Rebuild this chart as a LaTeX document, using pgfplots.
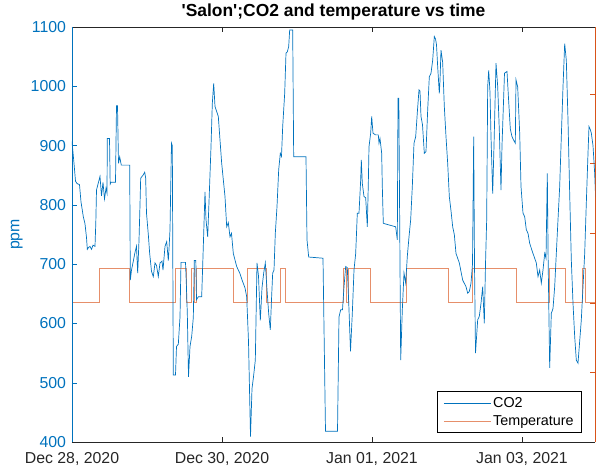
\documentclass[border=0pt]{standalone}
\usepackage{pgfplots}
\pgfplotsset{compat=1.18}
\usepackage{fontspec}
\setmainfont{Liberation Sans}

\definecolor{co2blue}{HTML}{0072BD}
\definecolor{temporange}{HTML}{D95319}
\definecolor{axgray}{HTML}{262626}

% x in hours since Dec 28, 2020 00:00
\pgfplotsset{
  common/.style={
    scale only axis, width=523bp, height=415bp,
    at={(0,0)}, anchor=south west,
    xmin=0, xmax=167.36,
    tick align=inside, major tick length=5bp,
    /pgf/number format/assume math mode=true,
    /pgf/number format/1000 sep={},
    tick label style={font=\fontsize{15.9}{19}\selectfont},
  },
}

\begin{document}
\begin{tikzpicture}
\useasboundingbox (-72bp,-28bp) rectangle (525bp,442bp);

\begin{axis}[common,
    axis x line=none, axis y line*=right,
    y axis line style={draw=temporange, line width=0.5pt},
    ymin=17, ymax=22.96,
    ytick={17,18,...,22}, yticklabels={},
    ytick style={draw=temporange},
  ]
  \addplot[temporange!65!white, line width=0.7pt, const plot] coordinates {
    (0,19) (8.86,19.5) (18.46,19) (33.18,19.5) (36.7,19) (38.3,19.5) (39.04,19)
    (39.84,19.5) (51.62,19) (56.1,19.5) (62.3,19) (66.56,19.5) (68.16,19)
    (86.82,19.5) (87.68,19) (88.48,19.5) (95.58,19) (107.1,19.5) (120.42,19)
    (128.22,19.5) (142.18,19) (152.86,19.5) (157.98,19) (163.3,19.5) (164.38,19)
    (167.36,19)
  };
\end{axis}

\begin{axis}[common,
    axis x line*=box, axis y line*=left,
    x axis line style={draw=axgray, line width=0.5pt},
    y axis line style={draw=co2blue, line width=0.5pt},
    ymin=400, ymax=1100,
    ytick={400,500,...,1100}, ytick pos=left,
    xtick={0,48,96,144},
    xticklabels={{Dec 28, 2020},{Dec 30, 2020},{Jan 01, 2021},{Jan 03, 2021}},
    xtick style={draw=axgray},
    ytick style={draw=co2blue},
    xticklabel style={color=axgray, yshift=-6.5bp},
    yticklabel style={color=co2blue, xshift=-2.5bp},
    ylabel={ppm},
    ylabel style={at={(axis description cs:-0.094,0.5)}, anchor=south,
      inner sep=0pt, color=co2blue, font=\fontsize{15.9}{19}\selectfont},
    title={\textbf{\textquotesingle Salon\textquotesingle;CO2 and temperature vs time}},
    title style={at={(axis description cs:0.5,1)}, anchor=base, yshift=4.5bp,
      font=\fontsize{17.5}{20}\selectfont, color=black},
    legend style={at={(rel axis cs:0.975,0.0217)}, anchor=south east,
      draw=black, line width=0.5pt, fill=white,
      font=\fontsize{14.4}{17}\selectfont,
      inner xsep=6bp, inner ysep=4bp, row sep=2.5bp,
      nodes={inner sep=2bp}},
    legend cell align=left,
    legend image code/.code={\draw[#1] (0bp,0bp) -- (47bp,0bp);},
  ]
  \addplot[co2blue, line width=0.7pt] coordinates {
    (0,907) (0.64,870) (1.12,840) (1.6,836) (2.4,834) (2.88,805) (3.62,780)
    (4.16,768) (4.64,745) (4.9,725) (5.28,728) (5.76,730) (6.24,725) (6.72,732)
    (7.36,730) (7.62,770) (7.84,825) (8.32,835) (8.96,848) (9.44,815) (9.92,838)
    (10.4,810) (10.88,828) (11.2,820) (11.3,912) (12.0,912) (12.22,835) (12.48,838)
    (13.92,838) (14.24,967) (14.56,967) (14.88,870) (15.26,881) (15.78,867)
    (18.46,867) (18.66,673) (19.04,690) (19.62,705) (20.16,720) (20.64,730)
    (21.02,685) (21.44,740) (21.76,800) (21.98,845) (22.72,850) (23.26,855)
    (23.58,845) (23.84,786) (24.42,750) (24.86,718) (25.44,688) (26.02,679)
    (26.56,702) (27.04,698) (27.62,679) (28.16,702) (28.8,705) (29.12,690)
    (29.76,730) (30.3,738) (30.82,706) (31.04,725) (31.36,758) (31.84,904)
    (32.1,900) (32.42,513) (33.12,513) (33.44,561) (34.02,565) (34.56,611)
    (34.88,703) (36.32,703) (36.58,668) (36.9,617) (37.28,510) (37.76,561)
    (38.3,578) (38.82,610) (39.14,706) (39.62,706) (39.84,640) (40.42,645)
    (41.5,645) (42.02,730) (42.56,822) (42.88,775) (43.42,746) (43.94,819)
    (44.48,898) (44.9,971) (45.34,1005) (45.76,966) (46.82,949) (47.9,870)
    (48.96,814) (49.5,763) (50.02,770) (50.56,746) (51.04,752) (51.62,718)
    (52.7,696) (53.76,684) (54.5,672) (55.36,660) (55.9,645) (56.48,570)
    (57.12,409) (57.6,490) (58.08,510) (58.66,538) (59.2,702) (59.68,680)
    (60.26,605) (60.8,660) (61.34,685) (61.86,702) (62.4,657) (62.94,617)
    (63.46,589) (63.84,640) (64.22,685) (64.64,690) (65.06,752) (65.6,797)
    (66.14,859) (66.66,887) (67.04,882) (67.42,932) (68.06,988) (68.48,1056)
    (68.9,1058) (69.34,1067) (69.66,1095) (70.62,1095) (70.94,881) (74.88,881)
    (75.2,741) (75.74,712) (80.32,710) (81.12,418) (84.96,418) (85.44,611)
    (85.98,623) (86.56,623) (87.04,662) (87.58,696) (88.1,694) (88.64,623)
    (89.12,553) (89.7,617) (90.24,690) (90.78,718) (91.3,786) (91.84,786)
    (92.38,842) (92.58,876) (92.9,836) (93.44,814) (93.98,812) (94.5,763)
    (94.82,836) (95.04,898) (95.58,921) (95.9,949) (96.32,921) (97.12,918)
    (98.02,918) (98.24,904) (98.56,912) (99.1,887) (99.3,831) (99.62,769)
    (100.16,768) (103.58,763) (104.1,741) (104.32,980) (104.58,980) (105.18,538)
    (105.7,623) (106.24,685) (106.78,668) (107.3,713) (107.84,746) (108.38,775)
    (108.9,831) (109.44,904) (109.98,915) (110.56,960) (111.04,994) (111.36,992)
    (111.68,949) (112.16,935) (112.74,887) (113.28,890) (113.82,960) (114.34,1016)
    (114.88,1022) (115.42,1044) (115.94,1084) (116.32,1080) (116.64,1070)
    (117.02,1033) (117.54,988) (117.76,1010) (118.08,1061) (118.62,1040)
    (119.14,966) (119.68,915) (120.22,870) (120.74,814) (121.28,790) (121.82,763)
    (122.34,750) (122.88,718) (123.94,702) (125.02,673) (126.08,662) (126.62,651)
    (127.14,654) (127.68,668) (128.16,700) (128.54,915) (128.8,700) (129.12,550)
    (129.82,606) (130.34,612) (130.88,634) (131.42,662) (131.94,600) (132.32,700)
    (132.7,775) (133.02,999) (133.34,1027) (133.76,990) (134.08,915) (134.62,819)
    (135.04,900) (135.68,1039) (136.22,1000) (136.74,926) (137.28,825) (137.6,900)
    (138.4,1022) (139.2,1025) (139.68,980) (140.26,928) (140.8,915) (141.34,909)
    (141.86,904) (142.08,1011) (142.62,999) (143.26,921) (143.68,831) (144.32,786)
    (144.86,780) (145.38,758) (145.92,752) (146.46,735) (147.52,718) (148.58,702)
    (149.12,679) (149.66,690) (150.18,668) (150.72,690) (151.26,718) (151.68,710)
    (152.1,853) (152.38,700) (152.86,525) (153.38,617) (153.92,625) (154.46,662)
    (154.98,718) (155.52,775) (156.06,831) (156.58,915) (157.12,999) (157.66,1072)
    (158.18,1044) (158.72,943) (159.26,819) (159.78,707) (160.32,634) (160.86,578)
    (161.38,538) (161.92,533) (162.46,570) (162.98,606) (163.52,662) (164.06,718)
    (164.58,803) (165.12,887) (165.44,932) (165.86,927) (166.18,921) (166.72,900)
    (167.26,853) (167.68,795)
  };
  \addlegendentry{CO2}
  \addlegendimage{temporange!65!white, line width=0.7pt}
  \addlegendentry{Temperature}
\end{axis}
\end{tikzpicture}
\end{document}
